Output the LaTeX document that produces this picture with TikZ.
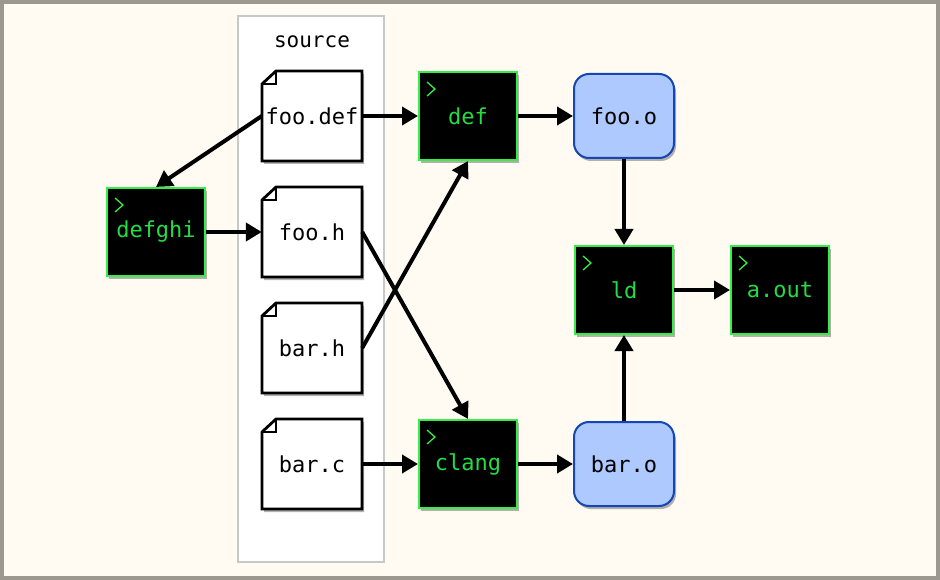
\documentclass[tikz,border=0pt]{standalone}
\usepackage{fontspec}
\setmonofont{DejaVu Sans Mono}
\usetikzlibrary{arrows.meta,shadows}
\definecolor{framegray}{HTML}{9C978F}
\definecolor{cream}{HTML}{FFFBF2}
\definecolor{boxgray}{HTML}{C8C8C8}
\definecolor{termgreen}{HTML}{33EE44}
\definecolor{termtext}{HTML}{22DD44}
\definecolor{objfill}{HTML}{ADC9FD}
\definecolor{objline}{HTML}{1446B4}
\tikzset{
  myshadow/.style={drop shadow={shadow xshift=2pt,shadow yshift=-3pt,opacity=0.3,fill=black}},
  labelfont/.style={font=\ttfamily\fontsize{22}{26}\selectfont},
  filebox/.style={minimum width=100pt,minimum height=90pt,inner sep=0pt,labelfont},
  docline/.style={draw=black,line width=2.8pt,fill=white,myshadow},
  term/.style={minimum width=98pt,minimum height=88pt,inner sep=0pt,fill=black,draw=termgreen,line width=2pt,text=termtext,myshadow,labelfont},
  objbox/.style={minimum width=100pt,minimum height=84pt,inner sep=0pt,fill=objfill,draw=objline,line width=2pt,rounded corners=15pt,myshadow,labelfont},
  conn/.style={line width=4pt,-{Triangle[length=16pt,width=18pt]}},
  prompt/.style={draw=termgreen,line width=1.3pt},
}
\begin{document}
\begin{tikzpicture}[x=1pt,y=-1pt]
\useasboundingbox (0,0) rectangle (940,580);
\fill[framegray] (0,0) rectangle (940,580);
\fill[cream] (4,4) rectangle (936,576);
% source container
\draw[boxgray,fill=white,line width=1.8pt] (238,16) rectangle (384,562);
\node[font=\ttfamily\fontsize{21}{24}\selectfont] (srclabel) at (312,42) {source};
% file nodes
\foreach \n/\t/\y in {foodef/foo.def/116, fooh/foo.h/232, barh/bar.h/348, barc/bar.c/464}{
  \path[docline] (262,\y-32) -- (276,\y-45) -- (362,\y-45) -- (362,\y+45) -- (262,\y+45) -- cycle;
  \draw[line width=1.6pt] (262,\y-32) -- (276,\y-32) -- (276,\y-45);
  \node[filebox] (\n) at (312,\y) {\t};
}
% terminal nodes
\node[term] (defghi) at (156,232) {defghi};
\node[term] (def) at (468,116) {def};
\node[term] (clang) at (468,464) {clang};
\node[term] (ld) at (624,290) {ld};
\node[term] (aout) at (780,290) {a.out};
\foreach \n in {defghi,def,clang,ld,aout}{
  \draw[prompt] ([shift={(9,11)}]\n.north west) -- ++(8,7) -- ++(-8,7);
}
% object nodes
\node[objbox] (fooo) at (624,116) {foo.o};
\node[objbox] (baro) at (624,464) {bar.o};
% connectors
\draw[conn] (foodef.west) -- (defghi.north);
\draw[conn] (defghi.east) -- (fooh.west);
\draw[conn] (foodef.east) -- (def.west);
\draw[conn] (barh.east) -- (def.south);
\draw[conn] (fooh.east) -- (clang.north);
\draw[conn] (barc.east) -- (clang.west);
\draw[conn] (def.east) -- (fooo.west);
\draw[conn] (clang.east) -- (baro.west);
\draw[conn] (fooo.south) -- (ld.north);
\draw[conn] (baro.north) -- (ld.south);
\draw[conn] (ld.east) -- (aout.west);
\end{tikzpicture}
\end{document}
